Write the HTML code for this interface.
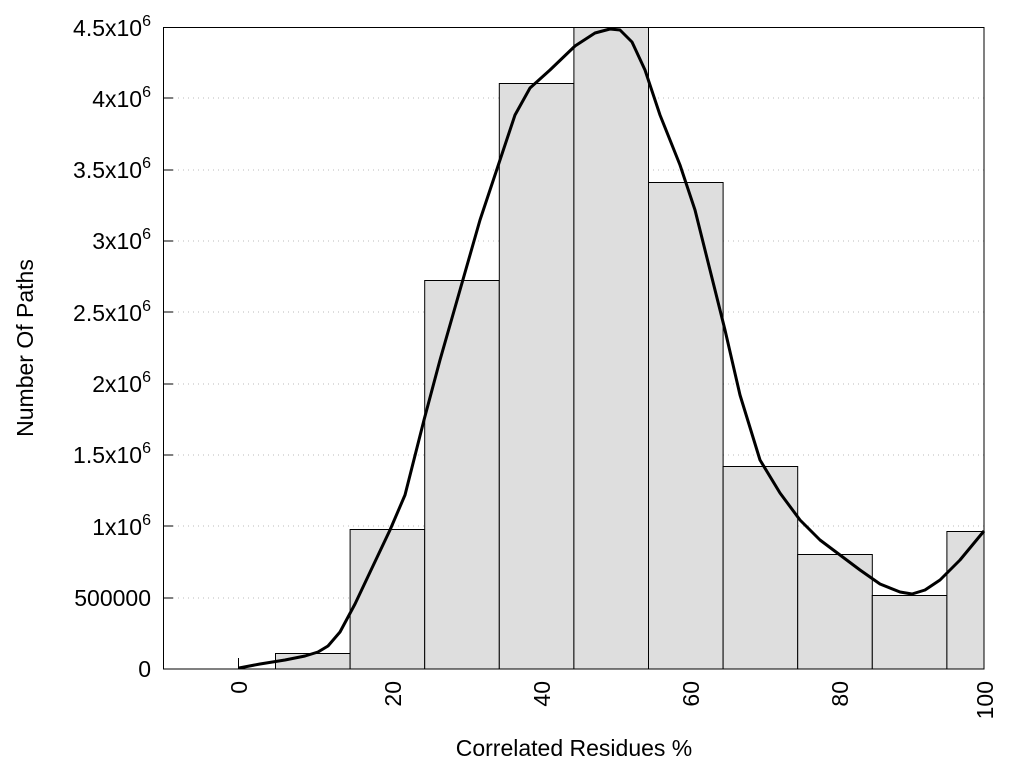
<!DOCTYPE html>
<html><head><meta charset="utf-8"><style>
body{margin:0;background:#fff}
svg{display:block;font-family:"Liberation Sans",sans-serif}
</style></head><body>
<svg width="1024" height="768" viewBox="0 0 1024 768">
<g stroke="#bbb" stroke-width="1" stroke-dasharray="1,4">
<line x1="173" y1="598" x2="984" y2="598"/>
<line x1="173" y1="526" x2="984" y2="526"/>
<line x1="173" y1="455" x2="984" y2="455"/>
<line x1="173" y1="384" x2="984" y2="384"/>
<line x1="173" y1="312" x2="984" y2="312"/>
<line x1="173" y1="241" x2="984" y2="241"/>
<line x1="173" y1="170" x2="984" y2="170"/>
<line x1="173" y1="98" x2="984" y2="98"/>
</g>
<g fill="#dedede" stroke="#000" stroke-width="1">
<rect x="275.5" y="653.5" width="74.6" height="15.5"/>
<rect x="350.1" y="529.5" width="74.6" height="139.5"/>
<rect x="424.7" y="280.5" width="74.6" height="388.5"/>
<rect x="499.3" y="83.5" width="74.6" height="585.5"/>
<rect x="573.9" y="27.5" width="74.6" height="641.5"/>
<rect x="648.5" y="182.5" width="74.6" height="486.5"/>
<rect x="723.1" y="466.5" width="74.6" height="202.5"/>
<rect x="797.7" y="554.5" width="74.6" height="114.5"/>
<rect x="872.3" y="595.5" width="74.6" height="73.5"/>
<rect x="946.9" y="531.5" width="37.1" height="137.5"/>
</g>
<rect x="163.5" y="27.5" width="820.5" height="641.5" fill="none" stroke="#000" stroke-width="1"/>
<g stroke="#000" stroke-width="1">
<line x1="163" y1="598" x2="173" y2="598"/><line x1="163" y1="526" x2="173" y2="526"/>
<line x1="163" y1="455" x2="173" y2="455"/><line x1="163" y1="384" x2="173" y2="384"/>
<line x1="163" y1="312" x2="173" y2="312"/><line x1="163" y1="241" x2="173" y2="241"/>
<line x1="163" y1="170" x2="173" y2="170"/><line x1="163" y1="98" x2="173" y2="98"/>
<line x1="238.5" y1="669" x2="238.5" y2="658"/>
</g>
<polyline fill="none" stroke="#000" stroke-width="3" stroke-linejoin="round" points="239,668 260,664 285,660 305,656 318,652 328,646 340,632 355,604 372,568 390,530 405,495 424,420 440,360 460,290 480,220 500,160 515,115 530,88 550,70 575,46 595,33 610,29 620,30 632,42 645,70 660,115 680,165 695,210 710,270 725,330 740,395 760,460 780,493 800,520 820,540 840,555 860,570 880,584 900,592 912,594 925,590 940,580 960,560 984,531"/>
<g font-size="23" fill="#000" text-anchor="end">
<text x="151" y="677">0</text>
<text x="151" y="606">500000</text>
<text x="151" y="535">1x10<tspan dy="-10" font-size="16">6</tspan></text>
<text x="151" y="463">1.5x10<tspan dy="-10" font-size="16">6</tspan></text>
<text x="151" y="392">2x10<tspan dy="-10" font-size="16">6</tspan></text>
<text x="151" y="321">2.5x10<tspan dy="-10" font-size="16">6</tspan></text>
<text x="151" y="249">3x10<tspan dy="-10" font-size="16">6</tspan></text>
<text x="151" y="178">3.5x10<tspan dy="-10" font-size="16">6</tspan></text>
<text x="151" y="107">4x10<tspan dy="-10" font-size="16">6</tspan></text>
<text x="151" y="36">4.5x10<tspan dy="-10" font-size="16">6</tspan></text>
</g>
<g font-size="23" fill="#000" text-anchor="end">
<text transform="translate(247,681) rotate(-90)">0</text>
<text transform="translate(401,681) rotate(-90)">20</text>
<text transform="translate(550,681) rotate(-90)">40</text>
<text transform="translate(699,681) rotate(-90)">60</text>
<text transform="translate(848,681) rotate(-90)">80</text>
<text transform="translate(993,681) rotate(-90)">100</text>
</g>
<text x="574" y="756" font-size="23" text-anchor="middle">Correlated Residues %</text>
<text transform="translate(33,348) rotate(-90)" font-size="23" text-anchor="middle">Number Of Paths</text>
</svg>
</body></html>
